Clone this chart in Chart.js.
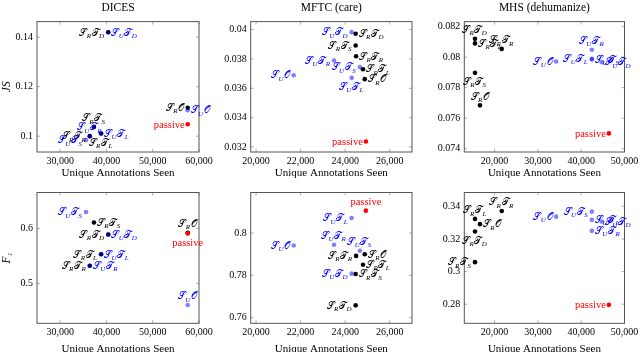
<!DOCTYPE html>
<html><head><meta charset="utf-8">
<script src="https://cdn.jsdelivr.net/npm/chart.js@4.4.1/dist/chart.umd.min.js"></script>
<style>
html,body{margin:0;padding:0;background:#fff;width:640px;height:352px;overflow:hidden;}
.p{position:absolute;}
</style></head><body>
<div class="p" style="left:0px;top:0px;width:213px;height:181px"><canvas id="c1"></canvas></div>
<div class="p" style="left:213px;top:0px;width:213px;height:181px"><canvas id="c2"></canvas></div>
<div class="p" style="left:426px;top:0px;width:214px;height:181px"><canvas id="c3"></canvas></div>
<div class="p" style="left:0px;top:176px;width:213px;height:181px"><canvas id="c4"></canvas></div>
<div class="p" style="left:213px;top:176px;width:213px;height:181px"><canvas id="c5"></canvas></div>
<div class="p" style="left:426px;top:176px;width:214px;height:181px"><canvas id="c6"></canvas></div>
<script>
// ---------------- data ----------------
const methods = ['S_R T_D','S_U T_D','S_R T_S','S_U T_S','S_R T_R','S_U T_R','S_R T_L','S_U T_L','S_R O','S_U O','passive'];

// DICES
const dicesSeen = [40400, 40400, 37300, 35600, 36400, 36400, 38850, 38850, 57560, 57560, 57560];
const dicesJS   = [0.1420, 0.1420, 0.1037, 0.0984, 0.1000, 0.1000, 0.1011, 0.1011, 0.1115, 0.1105, 0.1048];
const dicesF1   = [0.589, 0.589, 0.611, 0.630, 0.532, 0.532, 0.553, 0.553, 0.592, 0.4605, 0.591];
// MFTC (care)
const mftcSeen  = [24470, 24290, 24470, 24660, 24490, 23500, 24800, 24290, 24880, 21690, 24930];
const mftcJS    = [0.03971, 0.03982, 0.03891, 0.03744, 0.03818, 0.03789, 0.03730, 0.03671, 0.03662, 0.03689, 0.03238];
const mftcF1    = [0.7658, 0.7808, 0.7806, 0.7916, 0.7892, 0.7945, 0.7850, 0.8071, 0.7900, 0.7941, 0.8106];
// MHS (dehumanize)
const mhsSeen   = [15470, 44770, 15470, 42460, 21640, 42460, 15470, 42460, 16620, 34200, 46390];
const mhsJS     = [0.08120, 0.07967, 0.07897, 0.07985, 0.08054, 0.08048, 0.08090, 0.07989, 0.07684, 0.07971, 0.07500];
const mhsF1     = [0.3246, 0.3307, 0.3058, 0.3368, 0.3372, 0.3250, 0.3323, 0.3317, 0.3291, 0.3337, 0.2796];

// tick values
const dicesXTicks = [30000, 40000, 50000, 60000];
const mftcXTicks  = [20000, 22000, 24000, 26000];
const mhsXTicks   = [20000, 30000, 40000, 50000];
const dicesJSTicks = [0.1, 0.12, 0.14];
const dicesF1Ticks = [0.5, 0.6];
const mftcJSTicks  = [0.032, 0.034, 0.036, 0.038, 0.04];
const mftcF1Ticks  = [0.76, 0.78, 0.8];
const mhsJSTicks   = [0.074, 0.076, 0.078, 0.08, 0.082];
const mhsF1Ticks   = [0.28, 0.3, 0.32, 0.34];

// label anchor sides (l = left of mark, r = right, a = above, b = below)
const dicesJSSide = ['l','r','a','l','l','a','b','r','l','r','l'];
const dicesF1Side = ['l','r','r','l','l','r','l','r','a','a','b'];
const mftcJSSide  = ['r','l','l','l','r','l','r','b','r','l','l'];
const mftcF1Side  = ['l','l','r','a','l','a','r','l','r','l','a'];
const mhsJSSide   = ['a','r','b','r','a','a','r','l','a','l','l'];
const mhsF1Side   = ['b','r','l','l','a','r','a','r','r','l','l'];

// ---------------- drawing helpers ----------------
const SERIF = '"Liberation Serif", "DejaVu Serif", serif';
const SCRIPT = {S:'\u{1D4AE}', T:'\u{1D4AF}', O:'\u{1D4AA}'};
const MAIN_FONT = '9.5px "DejaVu Serif", "DejaVu Sans", ' + SERIF;
const SUB_FONT = 'italic 7px ' + SERIF;
const PLAIN_FONT = '10.5px ' + SERIF;

function parseLabel(t){
  if (t === 'passive') return null;
  return t.split(' ').map(tok => { const [m, s] = tok.split('_'); return {m: SCRIPT[m], s: s || ''}; });
}
function drawLabel(ctx, text, px, py, side, color){
  ctx.save();
  ctx.fillStyle = color; ctx.textBaseline = 'alphabetic'; ctx.textAlign = 'left';
  const parts = parseLabel(text);
  let w = 0;
  if (!parts) { ctx.font = PLAIN_FONT; w = ctx.measureText(text).width; }
  else parts.forEach(p => {
    ctx.font = MAIN_FONT; p.mw = ctx.measureText(p.m).width;
    ctx.font = SUB_FONT; p.sw = p.s ? ctx.measureText(p.s).width : 0;
    w += p.mw + p.sw + 0.3;
  });
  let x0, cy;
  if (side === 'r') { x0 = px + 3; cy = py; }
  else if (side === 'l') { x0 = px - 3 - w; cy = py; }
  else if (side === 'a') { x0 = px - w / 2; cy = py - 9; }
  else { x0 = px - w / 2; cy = py + 9; }
  const base = cy + 3.3;
  if (!parts) { ctx.font = PLAIN_FONT; ctx.fillText(text, x0, base); }
  else {
    let x = x0;
    parts.forEach(p => {
      ctx.font = MAIN_FONT; ctx.fillText(p.m, x, base); x += p.mw;
      if (p.s) { ctx.font = SUB_FONT; ctx.fillText(p.s, x - 0.6, base + 2.3); x += p.sw - 0.3; }
      x += 0.4;
    });
  }
  ctx.restore();
}

const framePlugin = {
  id: 'frame',
  afterDatasetsDraw(chart){
    const ctx = chart.ctx, a = chart.chartArea;
    const xs = chart.scales.x, ys = chart.scales.y;
    ctx.save();
    ctx.strokeStyle = '#999'; ctx.lineWidth = 0.8;
    xs.ticks.forEach(t => {
      const x = xs.getPixelForValue(t.value);
      ctx.beginPath(); ctx.moveTo(x, a.bottom); ctx.lineTo(x, a.bottom - 3);
      ctx.moveTo(x, a.top); ctx.lineTo(x, a.top + 3); ctx.stroke();
    });
    ys.ticks.forEach(t => {
      const y = ys.getPixelForValue(t.value);
      ctx.beginPath(); ctx.moveTo(a.left, y); ctx.lineTo(a.left + 3, y);
      ctx.moveTo(a.right, y); ctx.lineTo(a.right - 3, y); ctx.stroke();
    });
    ctx.strokeStyle = '#555'; ctx.lineWidth = 1;
    ctx.strokeRect(a.left, a.top, a.right - a.left, a.bottom - a.top);
    ctx.restore();
    // point labels
    chart.data.datasets.forEach((ds, di) => {
      const meta = chart.getDatasetMeta(di);
      meta.data.forEach((el, i) => {
        const d = ds.data[i];
        drawLabel(ctx, d.name, el.x, el.y, d.side, ds.labelColor);
      });
    });
  }
};

function buildDatasets(seen, vals, sides){
  const g = {R: [], U: [], P: []};
  methods.forEach((m, i) => {
    const k = m === 'passive' ? 'P' : (m.startsWith('S_R') ? 'R' : 'U');
    g[k].push({x: seen[i], y: vals[i], name: m, side: sides[i]});
  });
  return [
    {data: g.R, backgroundColor: '#000000', labelColor: '#000000', order: 3},
    {data: g.U, backgroundColor: 'rgba(0,0,255,0.5)', labelColor: '#0000ff', order: 2},
    {data: g.P, backgroundColor: '#ff0000', labelColor: '#ff0000', order: 1}
  ];
}

function fmt(v){ return Number(v.toFixed(5)).toString(); }

function makeChart(id, c){
  new Chart(document.getElementById(id), {
    type: 'scatter',
    data: {datasets: buildDatasets(c.seen, c.vals, c.sides)},
    options: {
      responsive: true, maintainAspectRatio: false, animation: false,
      elements: {point: {radius: 2.3, borderWidth: 0, hoverRadius: 2.3}},
      layout: {padding: {left: 0, right: c.padR, top: c.padT, bottom: 0}},
      plugins: {
        legend: {display: false}, tooltip: {enabled: false},
        title: {display: !!c.title, text: c.title || '', fullSize: false, color: '#000',
                font: {family: SERIF, size: 11.5, weight: 'normal'}, padding: {top: 1, bottom: 6.8}}
      },
      scales: {
        x: {
          type: 'linear', min: c.xMin, max: c.xMax,
          afterBuildTicks: s => { s.ticks = c.xTicks.map(v => ({value: v})); },
          afterFit: s => { s.height = c.xH; s.paddingLeft = 0; s.paddingRight = 0; },
          grid: {display: false, drawTicks: false}, border: {display: false},
          ticks: {color: '#000', font: {family: SERIF, size: 10}, padding: 3, maxRotation: 0, autoSkip: false,
                  callback: v => Number(v).toLocaleString('en-US')},
          title: {display: true, text: 'Unique Annotations Seen', color: '#000',
                  font: {family: SERIF, size: 11}, padding: {top: 0, bottom: 1}}
        },
        y: {
          type: 'linear', min: c.yMin, max: c.yMax,
          afterBuildTicks: s => { s.ticks = c.yTicks.map(v => ({value: v})); },
          afterFit: s => { s.width = c.yW; s.paddingTop = 0; s.paddingBottom = 0; },
          grid: {display: false, drawTicks: false}, border: {display: false},
          ticks: {color: '#000', font: {family: SERIF, size: 10}, padding: 4, autoSkip: false, callback: v => fmt(v)},
          title: {display: !!c.yTitle, text: c.yTitle || '', color: '#000',
                  font: {family: SERIF, size: 11.5, style: 'italic'}, padding: {top: 0, bottom: 0}}
        }
      }
    },
    plugins: [framePlugin]
  });
}

makeChart('c1', {seen: dicesSeen, vals: dicesJS, sides: dicesJSSide, title: 'DICES', yTitle: 'JS',
  xMin: 25000, xMax: 60000, xTicks: dicesXTicks, yMin: 0.0936, yMax: 0.1463, yTicks: dicesJSTicks,
  padR: 14, padT: 0, yW: 37, xH: 29});
makeChart('c2', {seen: mftcSeen, vals: mftcJS, sides: mftcJSSide, title: 'MFTC (care)',
  xMin: 19760, xMax: 27000, xTicks: mftcXTicks, yMin: 0.03166, yMax: 0.04054, yTicks: mftcJSTicks,
  padR: 14, padT: 0, yW: 37.7, xH: 29});
makeChart('c3', {seen: mhsSeen, vals: mhsJS, sides: mhsJSSide, title: 'MHS (dehumanize)',
  xMin: 13000, xMax: 50000, xTicks: mhsXTicks, yMin: 0.07378, yMax: 0.08233, yTicks: mhsJSTicks,
  padR: 15.5, padT: 0, yW: 38.3, xH: 29});
makeChart('c4', {seen: dicesSeen, vals: dicesF1, sides: dicesF1Side, yTitle: 'F\u2081',
  xMin: 25000, xMax: 60000, xTicks: dicesXTicks, yMin: 0.4273, yMax: 0.6655, yTicks: dicesF1Ticks,
  padR: 14, padT: 16.5, yW: 37, xH: 33.7});
makeChart('c5', {seen: mftcSeen, vals: mftcF1, sides: mftcF1Side,
  xMin: 19760, xMax: 27000, xTicks: mftcXTicks, yMin: 0.7573, yMax: 0.8192, yTicks: mftcF1Ticks,
  padR: 14, padT: 16.5, yW: 37.7, xH: 33.7});
makeChart('c6', {seen: mhsSeen, vals: mhsF1, sides: mhsF1Side,
  xMin: 13000, xMax: 50000, xTicks: mhsXTicks, yMin: 0.2683, yMax: 0.3485, yTicks: mhsF1Ticks,
  padR: 15.5, padT: 16.5, yW: 38.3, xH: 33.7});
</script>
</body></html>
